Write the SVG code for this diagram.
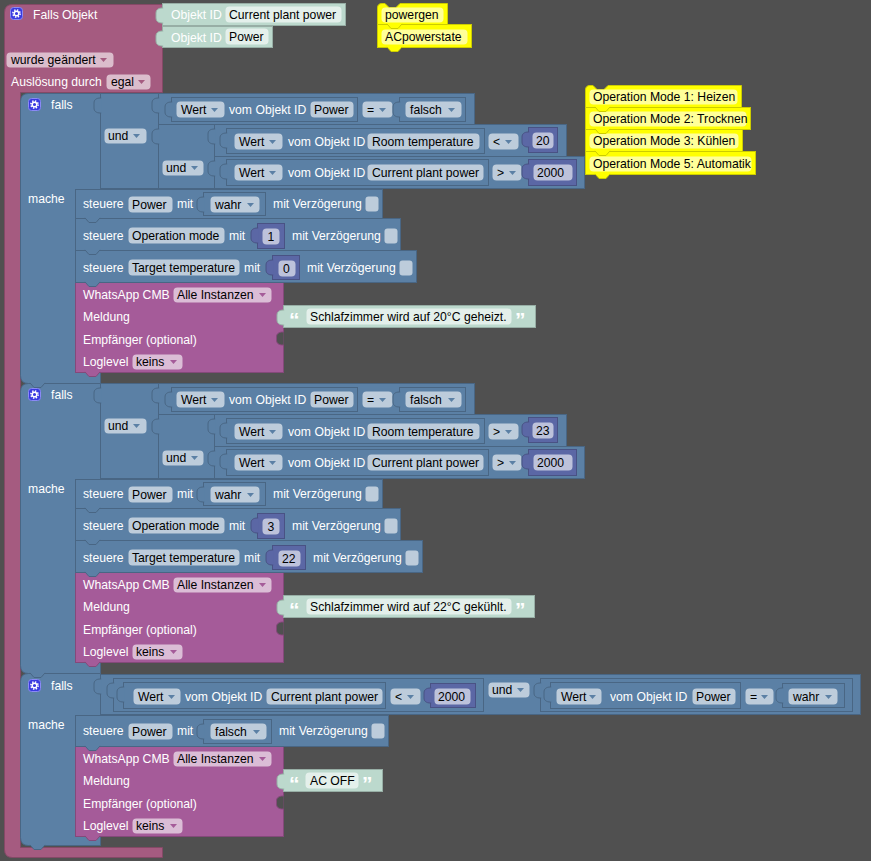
<svg xmlns="http://www.w3.org/2000/svg" width="871" height="861" viewBox="0 0 871 861">
<style>
text{font-family:"Liberation Sans",Arial,sans-serif;font-size:12.2px}
.w{fill:#fff}
.k{fill:#000}
.q{fill:#fff;font-weight:bold;font-size:21px}
.ev{fill:#a55b80;stroke:#844966}
.lg{fill:#5b80a5;stroke:#496684}
.nm{fill:#5b67a5;stroke:#495284}
.wa{fill:#a55b99;stroke:#84497a}
.mt{fill:#bcd9cd;stroke:#97aea5}
.cm{fill:#ffff00;stroke:#cccc00}
.f{fill:#fff;fill-opacity:.6}
.a{fill:#5b80a5}
.ap{fill:#a55b80}
.aw{fill:#a55b99}
</style>
<defs>
<path id="ar" d="M0,0h7l-3.5,4z"/>
<path id="vt" d="M1.2,5 H0.5 C-4,5 -6,7 -6,10 V15 C-6,18 -4,20 0.5,20 H1.2"/>
<path id="nt" d="M0,-0.6 L4,4 H11 L15,-0.6"/>
<path id="es" d="M0.6,0 H0 C-4.5,0 -6.5,2 -6.5,5 V8 C-6.5,11 -4.5,13 0,13 H0.6"/>
<g id="gear"><rect x="0.5" y="0.5" width="12" height="12" rx="3" fill="#3a3ae0" stroke="#8a8af5"/><circle cx="6.5" cy="6.5" r="3.6" fill="none" stroke="#fff" stroke-width="1.6" stroke-dasharray="1.4 1.43"/><circle cx="6.5" cy="6.5" r="2.3" fill="none" stroke="#fff" stroke-width="1.4"/></g>
</defs>
<rect width="871" height="861" fill="#505050"/>

<g id="falls-objekt">
<path class="ev" d="M4.5,12.5 Q4.5,4.5 12.5,4.5 H162.5 V92.5 H20.5 V847.5 H162.5 V857.5 H12.5 Q4.5,857.5 4.5,849.5 Z"/>
<use href="#gear" x="10" y="7"/>
<text class="w" x="33" y="19">Falls Objekt</text>
<rect class="f" x="6.5" y="52.5" width="107" height="15" rx="4"/>
<text class="k" x="11" y="64">wurde geändert</text>
<use href="#ar" x="100" y="58" class="ap"/>
<text class="w" x="11" y="86">Auslösung durch</text>
<rect class="f" x="106.5" y="74.5" width="44" height="15" rx="4"/>
<text class="k" x="111" y="86">egal</text>
<use href="#ar" x="138" y="80" class="ap"/>
</g>

<g id="oid-current">
<rect class="mt" x="162.5" y="3.5" width="183" height="22"/>
<use href="#vt" x="162" y="3" class="mt"/>
<text class="w" x="171" y="19">Objekt ID</text>
<rect class="f" x="225.5" y="6.5" width="116" height="16" rx="4"/>
<text class="k" x="229" y="18.5">Current plant power</text>
</g>
<g id="oid-power">
<rect class="mt" x="162.5" y="26.5" width="110" height="21"/>
<use href="#vt" x="162" y="26" class="mt"/>
<text class="w" x="171" y="41.5">Objekt ID</text>
<rect class="f" x="225.5" y="28.5" width="43" height="16" rx="4"/>
<text class="k" x="229" y="40.5">Power</text>
</g>

<g id="comment-acpowerstate">
<rect class="cm" x="377.5" y="24.5" width="94" height="23"/>
<use href="#nt" x="387" y="47.5" class="cm"/>
<rect class="f" x="381.5" y="29.5" width="86" height="15" rx="4"/>
<text class="k" x="385" y="41">ACpowerstate</text>
</g>
<g id="comment-powergen">
<path class="cm" d="M377.5,8 Q377.5,3.5 382,3.5 H385 L389,7.5 H396 L400,3.5 H447.5 V24.5 H377.5 Z"/>
<use href="#nt" x="387" y="24.5" class="cm"/>
<rect class="f" x="381.5" y="7.5" width="62" height="15" rx="4"/>
<text class="k" x="385" y="19">powergen</text>
</g>

<g id="comment-mode5">
<rect class="cm" x="585.5" y="151.5" width="170" height="23"/>
<use href="#nt" x="595" y="174.5" class="cm"/>
<rect class="f" x="589.5" y="156.5" width="162" height="15" rx="4"/>
<text class="k" x="593" y="168">Operation Mode 5: Automatik</text>
</g>
<g id="comment-mode3">
<rect class="cm" x="585.5" y="129.5" width="157" height="22"/>
<use href="#nt" x="595" y="151.5" class="cm"/>
<rect class="f" x="589.5" y="133.5" width="149" height="15" rx="4"/>
<text class="k" x="593" y="145">Operation Mode 3: Kühlen</text>
</g>
<g id="comment-mode2">
<rect class="cm" x="585.5" y="107.5" width="165" height="22"/>
<use href="#nt" x="595" y="129.5" class="cm"/>
<rect class="f" x="589.5" y="111.5" width="157" height="15" rx="4"/>
<text class="k" x="593" y="123">Operation Mode 2: Trocknen</text>
</g>
<g id="comment-mode1">
<path class="cm" d="M585.5,90 Q585.5,85.5 590,85.5 H593 L597,89.5 H604 L608,85.5 H741.5 V107.5 H585.5 Z"/>
<use href="#nt" x="595" y="107.5" class="cm"/>
<rect class="f" x="589.5" y="89.5" width="148" height="15" rx="4"/>
<text class="k" x="593" y="101">Operation Mode 1: Heizen</text>
</g>

<g id="falls3">
<path class="lg" d="M20.5,681.5 Q20.5,673.5 28.5,673.5 H100.5 V715.5 H75.5 V836.5 H100.5 V845.5 H28.5 Q20.5,845.5 20.5,837.5 Z"/>
<use href="#gear" x="28" y="679"/>
<text class="w" x="51" y="690">falls</text>
<text class="w" x="28" y="729">mache</text>
<g id="und3">
<rect class="lg" x="100.5" y="674.5" width="760" height="40"/>
<use href="#vt" x="100" y="674" class="lg"/>
<rect class="f" x="488.5" y="682.5" width="41" height="15" rx="4"/>
<text class="k" x="492" y="694">und</text>
<use href="#ar" x="517" y="688" class="a"/>
</g>
<g id="cmp3a">
<rect class="lg" x="113.5" y="678.5" width="370" height="33"/>
<use href="#vt" x="113" y="678" class="lg"/>
<rect class="lg" x="123.5" y="682.5" width="262" height="26"/>
<use href="#vt" x="123" y="682" class="lg"/>
<rect class="f" x="133.5" y="688.5" width="47" height="16" rx="4"/>
<text class="k" x="138" y="700.5">Wert</text>
<use href="#ar" x="168" y="695" class="a"/>
<text class="w" x="185" y="700.5">vom Objekt ID</text>
<rect class="f" x="266.5" y="688.5" width="116" height="16" rx="4"/>
<text class="k" x="271" y="700.5">Current plant power</text>
<rect class="f" x="390.5" y="688.5" width="30" height="16" rx="4"/>
<text class="k" x="395" y="700.5">&lt;</text>
<use href="#ar" x="407" y="695" class="a"/>
<rect class="nm" x="430.5" y="683.5" width="45" height="24"/>
<use href="#vt" x="430" y="683" class="nm"/>
<rect class="f" x="434.5" y="688.5" width="36" height="16" rx="4"/>
<text class="k" x="438" y="700.5">2000</text>
</g>
<g id="cmp3b">
<rect class="lg" x="540.5" y="678.5" width="312" height="33"/>
<use href="#vt" x="540" y="678" class="lg"/>
<rect class="lg" x="550.5" y="682.5" width="190" height="26"/>
<use href="#vt" x="550" y="682" class="lg"/>
<rect class="f" x="556.5" y="688.5" width="45" height="16" rx="4"/>
<text class="k" x="561" y="700.5">Wert</text>
<use href="#ar" x="589" y="695" class="a"/>
<text class="w" x="610" y="700.5">vom Objekt ID</text>
<rect class="f" x="692.5" y="688.5" width="43" height="16" rx="4"/>
<text class="k" x="696" y="700.5">Power</text>
<rect class="f" x="745.5" y="688.5" width="28" height="16" rx="4"/>
<text class="k" x="750" y="700.5">=</text>
<use href="#ar" x="761" y="695" class="a"/>
<rect class="lg" x="782.5" y="683.5" width="62" height="24"/>
<use href="#vt" x="782" y="683" class="lg"/>
<rect class="f" x="788.5" y="688.5" width="49" height="16" rx="4"/>
<text class="k" x="793" y="700.5">wahr</text>
<use href="#ar" x="825" y="695" class="a"/>
</g>
<g id="wa3">
<rect class="wa" x="75.5" y="746.5" width="208" height="90"/>
<use href="#es" x="283" y="796" fill="#505050" stroke="#84497a"/>
<text class="w" x="83" y="763">WhatsApp CMB</text>
<rect class="f" x="173.5" y="751.5" width="98" height="15" rx="4"/>
<text class="k" x="177" y="763">Alle Instanzen</text>
<use href="#ar" x="259" y="757" class="aw"/>
<text class="w" x="83" y="785">Meldung</text>
<text class="w" x="83" y="808">Empfänger (optional)</text>
<text class="w" x="83" y="830">Loglevel</text>
<rect class="f" x="132.5" y="818.5" width="50" height="15" rx="4"/>
<text class="k" x="136" y="830">keins</text>
<use href="#ar" x="170" y="824" class="aw"/>
<use href="#nt" x="85" y="836.5" class="wa"/>
</g>
<g id="txt3">
<rect class="mt" x="283.5" y="769.5" width="99" height="22"/>
<use href="#vt" x="283" y="769" class="mt"/>
<text class="q" x="289" y="791">“</text>
<rect class="f" x="305.5" y="772.5" width="53" height="16" rx="4"/>
<text class="k" x="310" y="784.5">AC OFF</text>
<text class="q" x="362" y="791">”</text>
</g>
<g id="set3a">
<rect class="lg" x="75.5" y="715.5" width="313" height="31"/>
<use href="#nt" x="85" y="746.5" class="lg"/>
<text class="w" x="83" y="735">steuere</text>
<rect class="f" x="128.5" y="723.5" width="44" height="16" rx="4"/>
<text class="k" x="132" y="735.5">Power</text>
<text class="w" x="177" y="735">mit</text>
<rect class="lg" x="203.5" y="719.5" width="68" height="24"/>
<use href="#vt" x="203" y="719" class="lg"/>
<rect class="f" x="210.5" y="723.5" width="56" height="16" rx="4"/>
<text class="k" x="215" y="735.5">falsch</text>
<use href="#ar" x="253" y="730" class="a"/>
<text class="w" x="279" y="735">mit Verzögerung</text>
<rect class="f" x="371.5" y="723.5" width="13" height="15" rx="3"/>
</g>
<use href="#nt" x="30" y="845.5" class="lg"/>
</g>

<g id="falls2" transform="translate(0,290)">
<path class="lg" d="M20.5,101.5 Q20.5,93.5 28.5,93.5 H100.5 V189.5 H75.5 V372.5 H100.5 V383.5 H28.5 Q20.5,383.5 20.5,375.5 Z"/>
<use href="#gear" x="28" y="98"/>
<text class="w" x="51" y="109">falls</text>
<text class="w" x="28" y="203">mache</text>
<g id="und2a">
<rect class="lg" x="100.5" y="93.5" width="58" height="95"/>
<use href="#vt" x="100" y="93" class="lg"/>
<rect class="f" x="104.5" y="128.5" width="42" height="15" rx="4"/>
<text class="k" x="108" y="140">und</text>
<use href="#ar" x="133" y="134" class="a"/>
</g>
<g id="cmp2a">
<rect class="lg" x="158.5" y="93.5" width="316" height="31"/>
<use href="#vt" x="158" y="93" class="lg"/>
<rect class="lg" x="171.5" y="97.5" width="186" height="24"/>
<use href="#vt" x="171" y="97" class="lg"/>
<rect class="f" x="176.5" y="101.5" width="48" height="16" rx="4"/>
<text class="k" x="181" y="113.5">Wert</text>
<use href="#ar" x="211" y="108" class="a"/>
<text class="w" x="229" y="113.5">vom Objekt ID</text>
<rect class="f" x="310.5" y="101.5" width="43" height="16" rx="4"/>
<text class="k" x="314" y="113.5">Power</text>
<rect class="f" x="362.5" y="101.5" width="30" height="16" rx="4"/>
<text class="k" x="367" y="113.5">=</text>
<use href="#ar" x="379" y="108" class="a"/>
<rect class="lg" x="399.5" y="97.5" width="66" height="24"/>
<use href="#vt" x="399" y="97" class="lg"/>
<rect class="f" x="405.5" y="101.5" width="56" height="16" rx="4"/>
<text class="k" x="410" y="113.5">falsch</text>
<use href="#ar" x="448" y="108" class="a"/>
</g>
<g id="und2b">
<rect class="lg" x="158.5" y="124.5" width="56" height="64"/>
<use href="#vt" x="158" y="124" class="lg"/>
<rect class="f" x="162.5" y="160.5" width="41" height="15" rx="4"/>
<text class="k" x="166" y="172">und</text>
<use href="#ar" x="191" y="166" class="a"/>
</g>
<g id="cmp2b">
<rect class="lg" x="214.5" y="124.5" width="352" height="32"/>
<use href="#vt" x="214" y="124" class="lg"/>
<rect class="lg" x="226.5" y="128.5" width="258" height="25"/>
<use href="#vt" x="226" y="128" class="lg"/>
<rect class="f" x="234.5" y="133.5" width="48" height="16" rx="4"/>
<text class="k" x="239" y="145.5">Wert</text>
<use href="#ar" x="269" y="140" class="a"/>
<text class="w" x="288" y="145.5">vom Objekt ID</text>
<rect class="f" x="367.5" y="133.5" width="112" height="16" rx="4"/>
<text class="k" x="372" y="145.5">Room temperature</text>
<rect class="f" x="488.5" y="133.5" width="30" height="16" rx="4"/>
<text class="k" x="493" y="145.5">&gt;</text>
<use href="#ar" x="505" y="140" class="a"/>
<rect class="nm" x="528.5" y="127.5" width="29" height="25"/>
<use href="#vt" x="528" y="127" class="nm"/>
<rect class="f" x="532.5" y="132.5" width="21" height="16" rx="4"/>
<text class="k" x="536" y="144.5">23</text>
</g>
<g id="cmp2c">
<rect class="lg" x="214.5" y="156.5" width="370" height="32"/>
<use href="#vt" x="214" y="156" class="lg"/>
<rect class="lg" x="226.5" y="159.5" width="262" height="26"/>
<use href="#vt" x="226" y="159" class="lg"/>
<rect class="f" x="234.5" y="164.5" width="48" height="16" rx="4"/>
<text class="k" x="239" y="176.5">Wert</text>
<use href="#ar" x="269" y="171" class="a"/>
<text class="w" x="288" y="176.5">vom Objekt ID</text>
<rect class="f" x="367.5" y="164.5" width="116" height="16" rx="4"/>
<text class="k" x="372" y="176.5">Current plant power</text>
<rect class="f" x="492.5" y="164.5" width="29" height="16" rx="4"/>
<text class="k" x="497" y="176.5">&gt;</text>
<use href="#ar" x="509" y="171" class="a"/>
<rect class="nm" x="528.5" y="159.5" width="48" height="26"/>
<use href="#vt" x="528" y="159" class="nm"/>
<rect class="f" x="533.5" y="164.5" width="39" height="16" rx="4"/>
<text class="k" x="537" y="176.5">2000</text>
</g>
<g id="wa2">
<rect class="wa" x="75.5" y="282.5" width="208" height="90"/>
<use href="#es" x="283" y="332" fill="#505050" stroke="#84497a"/>
<text class="w" x="83" y="298.5">WhatsApp CMB</text>
<rect class="f" x="173.5" y="287.5" width="98" height="15" rx="4"/>
<text class="k" x="177" y="299">Alle Instanzen</text>
<use href="#ar" x="259" y="293" class="aw"/>
<text class="w" x="83" y="321">Meldung</text>
<text class="w" x="83" y="344">Empfänger (optional)</text>
<text class="w" x="83" y="366">Loglevel</text>
<rect class="f" x="132.5" y="354.5" width="50" height="15" rx="4"/>
<text class="k" x="136" y="366">keins</text>
<use href="#ar" x="170" y="360" class="aw"/>
<use href="#nt" x="85" y="372.5" class="wa"/>
</g>
<g id="txt2">
<rect class="mt" x="283.5" y="305.5" width="251" height="22"/>
<use href="#vt" x="283" y="305" class="mt"/>
<text class="q" x="289" y="327">“</text>
<rect class="f" x="306.5" y="308.5" width="205" height="16" rx="4"/>
<text class="k" x="310" y="320.5">Schlafzimmer wird auf 22°C gekühlt.</text>
<text class="q" x="515" y="327">”</text>
</g>
<g id="set2c">
<rect class="lg" x="75.5" y="250.5" width="347" height="32"/>
<use href="#nt" x="85" y="282.5" class="lg"/>
<text class="w" x="83" y="272">steuere</text>
<rect class="f" x="128.5" y="259.5" width="111" height="16" rx="4"/>
<text class="k" x="132" y="271.5">Target temperature</text>
<text class="w" x="244" y="272">mit</text>
<rect class="nm" x="272.5" y="255.5" width="33" height="24"/>
<use href="#vt" x="272" y="255" class="nm"/>
<rect class="f" x="278.5" y="260.5" width="22" height="16" rx="4"/>
<text class="k" x="282" y="272.5">22</text>
<text class="w" x="313" y="272">mit Verzögerung</text>
<rect class="f" x="405.5" y="260.5" width="13" height="15" rx="3"/>
</g>
<g id="set2b">
<rect class="lg" x="75.5" y="218.5" width="325" height="32"/>
<use href="#nt" x="85" y="250.5" class="lg"/>
<text class="w" x="83" y="240">steuere</text>
<rect class="f" x="128.5" y="227.5" width="96" height="16" rx="4"/>
<text class="k" x="132" y="239.5">Operation mode</text>
<text class="w" x="229" y="240">mit</text>
<rect class="nm" x="257.5" y="223.5" width="27" height="25"/>
<use href="#vt" x="257" y="223" class="nm"/>
<rect class="f" x="262.5" y="228.5" width="17" height="16" rx="4"/>
<text class="k" x="267.5" y="240.5">3</text>
<text class="w" x="292" y="240">mit Verzögerung</text>
<rect class="f" x="384.5" y="228.5" width="13" height="15" rx="3"/>
</g>
<g id="set2a">
<rect class="lg" x="75.5" y="189.5" width="307" height="29"/>
<use href="#nt" x="85" y="218.5" class="lg"/>
<text class="w" x="83" y="208">steuere</text>
<rect class="f" x="128.5" y="196.5" width="44" height="16" rx="4"/>
<text class="k" x="132" y="208.5">Power</text>
<text class="w" x="177" y="208">mit</text>
<rect class="lg" x="203.5" y="192.5" width="62" height="23"/>
<use href="#vt" x="203" y="192" class="lg"/>
<rect class="f" x="210.5" y="196.5" width="49" height="16" rx="4"/>
<text class="k" x="215" y="208.5">wahr</text>
<use href="#ar" x="247" y="203" class="a"/>
<text class="w" x="273" y="208">mit Verzögerung</text>
<rect class="f" x="365.5" y="196.5" width="13" height="15" rx="3"/>
</g>
<use href="#nt" x="30" y="383.5" class="lg"/>
</g>

<g id="falls1">
<path class="lg" d="M20.5,101.5 Q20.5,93.5 28.5,93.5 H100.5 V189.5 H75.5 V372.5 H100.5 V383.5 H28.5 Q20.5,383.5 20.5,375.5 Z"/>
<use href="#gear" x="28" y="98"/>
<text class="w" x="51" y="109">falls</text>
<text class="w" x="28" y="203">mache</text>
<g id="und1a">
<rect class="lg" x="100.5" y="93.5" width="58" height="95"/>
<use href="#vt" x="100" y="93" class="lg"/>
<rect class="f" x="104.5" y="128.5" width="42" height="15" rx="4"/>
<text class="k" x="108" y="140">und</text>
<use href="#ar" x="133" y="134" class="a"/>
</g>
<g id="cmp1a">
<rect class="lg" x="158.5" y="93.5" width="316" height="31"/>
<use href="#vt" x="158" y="93" class="lg"/>
<rect class="lg" x="171.5" y="97.5" width="186" height="24"/>
<use href="#vt" x="171" y="97" class="lg"/>
<rect class="f" x="176.5" y="101.5" width="48" height="16" rx="4"/>
<text class="k" x="181" y="113.5">Wert</text>
<use href="#ar" x="211" y="108" class="a"/>
<text class="w" x="229" y="113.5">vom Objekt ID</text>
<rect class="f" x="310.5" y="101.5" width="43" height="16" rx="4"/>
<text class="k" x="314" y="113.5">Power</text>
<rect class="f" x="362.5" y="101.5" width="30" height="16" rx="4"/>
<text class="k" x="367" y="113.5">=</text>
<use href="#ar" x="379" y="108" class="a"/>
<rect class="lg" x="399.5" y="97.5" width="66" height="24"/>
<use href="#vt" x="399" y="97" class="lg"/>
<rect class="f" x="405.5" y="101.5" width="56" height="16" rx="4"/>
<text class="k" x="410" y="113.5">falsch</text>
<use href="#ar" x="448" y="108" class="a"/>
</g>
<g id="und1b">
<rect class="lg" x="158.5" y="124.5" width="56" height="64"/>
<use href="#vt" x="158" y="124" class="lg"/>
<rect class="f" x="162.5" y="160.5" width="41" height="15" rx="4"/>
<text class="k" x="166" y="172">und</text>
<use href="#ar" x="191" y="166" class="a"/>
</g>
<g id="cmp1b">
<rect class="lg" x="214.5" y="124.5" width="352" height="32"/>
<use href="#vt" x="214" y="124" class="lg"/>
<rect class="lg" x="226.5" y="128.5" width="258" height="25"/>
<use href="#vt" x="226" y="128" class="lg"/>
<rect class="f" x="234.5" y="133.5" width="48" height="16" rx="4"/>
<text class="k" x="239" y="145.5">Wert</text>
<use href="#ar" x="269" y="140" class="a"/>
<text class="w" x="288" y="145.5">vom Objekt ID</text>
<rect class="f" x="367.5" y="133.5" width="112" height="16" rx="4"/>
<text class="k" x="372" y="145.5">Room temperature</text>
<rect class="f" x="488.5" y="133.5" width="30" height="16" rx="4"/>
<text class="k" x="493" y="145.5">&lt;</text>
<use href="#ar" x="505" y="140" class="a"/>
<rect class="nm" x="528.5" y="127.5" width="29" height="25"/>
<use href="#vt" x="528" y="127" class="nm"/>
<rect class="f" x="532.5" y="132.5" width="21" height="16" rx="4"/>
<text class="k" x="536" y="144.5">20</text>
</g>
<g id="cmp1c">
<rect class="lg" x="214.5" y="156.5" width="370" height="32"/>
<use href="#vt" x="214" y="156" class="lg"/>
<rect class="lg" x="226.5" y="159.5" width="262" height="26"/>
<use href="#vt" x="226" y="159" class="lg"/>
<rect class="f" x="234.5" y="164.5" width="48" height="16" rx="4"/>
<text class="k" x="239" y="176.5">Wert</text>
<use href="#ar" x="269" y="171" class="a"/>
<text class="w" x="288" y="176.5">vom Objekt ID</text>
<rect class="f" x="367.5" y="164.5" width="116" height="16" rx="4"/>
<text class="k" x="372" y="176.5">Current plant power</text>
<rect class="f" x="492.5" y="164.5" width="29" height="16" rx="4"/>
<text class="k" x="497" y="176.5">&gt;</text>
<use href="#ar" x="509" y="171" class="a"/>
<rect class="nm" x="528.5" y="159.5" width="48" height="26"/>
<use href="#vt" x="528" y="159" class="nm"/>
<rect class="f" x="533.5" y="164.5" width="39" height="16" rx="4"/>
<text class="k" x="537" y="176.5">2000</text>
</g>
<g id="wa1">
<rect class="wa" x="75.5" y="282.5" width="208" height="90"/>
<use href="#es" x="283" y="332" fill="#505050" stroke="#84497a"/>
<text class="w" x="83" y="298.5">WhatsApp CMB</text>
<rect class="f" x="173.5" y="287.5" width="98" height="15" rx="4"/>
<text class="k" x="177" y="299">Alle Instanzen</text>
<use href="#ar" x="259" y="293" class="aw"/>
<text class="w" x="83" y="321">Meldung</text>
<text class="w" x="83" y="344">Empfänger (optional)</text>
<text class="w" x="83" y="366">Loglevel</text>
<rect class="f" x="132.5" y="354.5" width="50" height="15" rx="4"/>
<text class="k" x="136" y="366">keins</text>
<use href="#ar" x="170" y="360" class="aw"/>
<use href="#nt" x="85" y="372.5" class="wa"/>
</g>
<g id="txt1">
<rect class="mt" x="283.5" y="305.5" width="252" height="22"/>
<use href="#vt" x="283" y="305" class="mt"/>
<text class="q" x="289" y="327">“</text>
<rect class="f" x="306.5" y="308.5" width="205" height="16" rx="4"/>
<text class="k" x="310" y="320.5">Schlafzimmer wird auf 20°C geheizt.</text>
<text class="q" x="515" y="327">”</text>
</g>
<g id="set1c">
<rect class="lg" x="75.5" y="250.5" width="341" height="32"/>
<use href="#nt" x="85" y="282.5" class="lg"/>
<text class="w" x="83" y="272">steuere</text>
<rect class="f" x="128.5" y="259.5" width="111" height="16" rx="4"/>
<text class="k" x="132" y="271.5">Target temperature</text>
<text class="w" x="244" y="272">mit</text>
<rect class="nm" x="272.5" y="255.5" width="27" height="24"/>
<use href="#vt" x="272" y="255" class="nm"/>
<rect class="f" x="278.5" y="260.5" width="17" height="16" rx="4"/>
<text class="k" x="283" y="272.5">0</text>
<text class="w" x="307" y="272">mit Verzögerung</text>
<rect class="f" x="399.5" y="260.5" width="13" height="15" rx="3"/>
</g>
<g id="set1b">
<rect class="lg" x="75.5" y="218.5" width="325" height="32"/>
<use href="#nt" x="85" y="250.5" class="lg"/>
<text class="w" x="83" y="240">steuere</text>
<rect class="f" x="128.5" y="227.5" width="96" height="16" rx="4"/>
<text class="k" x="132" y="239.5">Operation mode</text>
<text class="w" x="229" y="240">mit</text>
<rect class="nm" x="257.5" y="223.5" width="27" height="25"/>
<use href="#vt" x="257" y="223" class="nm"/>
<rect class="f" x="262.5" y="228.5" width="17" height="16" rx="4"/>
<text class="k" x="267.5" y="240.5">1</text>
<text class="w" x="292" y="240">mit Verzögerung</text>
<rect class="f" x="384.5" y="228.5" width="13" height="15" rx="3"/>
</g>
<g id="set1a">
<rect class="lg" x="75.5" y="189.5" width="307" height="29"/>
<use href="#nt" x="85" y="218.5" class="lg"/>
<text class="w" x="83" y="208">steuere</text>
<rect class="f" x="128.5" y="196.5" width="44" height="16" rx="4"/>
<text class="k" x="132" y="208.5">Power</text>
<text class="w" x="177" y="208">mit</text>
<rect class="lg" x="203.5" y="192.5" width="62" height="23"/>
<use href="#vt" x="203" y="192" class="lg"/>
<rect class="f" x="210.5" y="196.5" width="49" height="16" rx="4"/>
<text class="k" x="215" y="208.5">wahr</text>
<use href="#ar" x="247" y="203" class="a"/>
<text class="w" x="273" y="208">mit Verzögerung</text>
<rect class="f" x="365.5" y="196.5" width="13" height="15" rx="3"/>
</g>
<use href="#nt" x="30" y="383.5" class="lg"/>
</g>

<g id="connectors"/>
</svg>
